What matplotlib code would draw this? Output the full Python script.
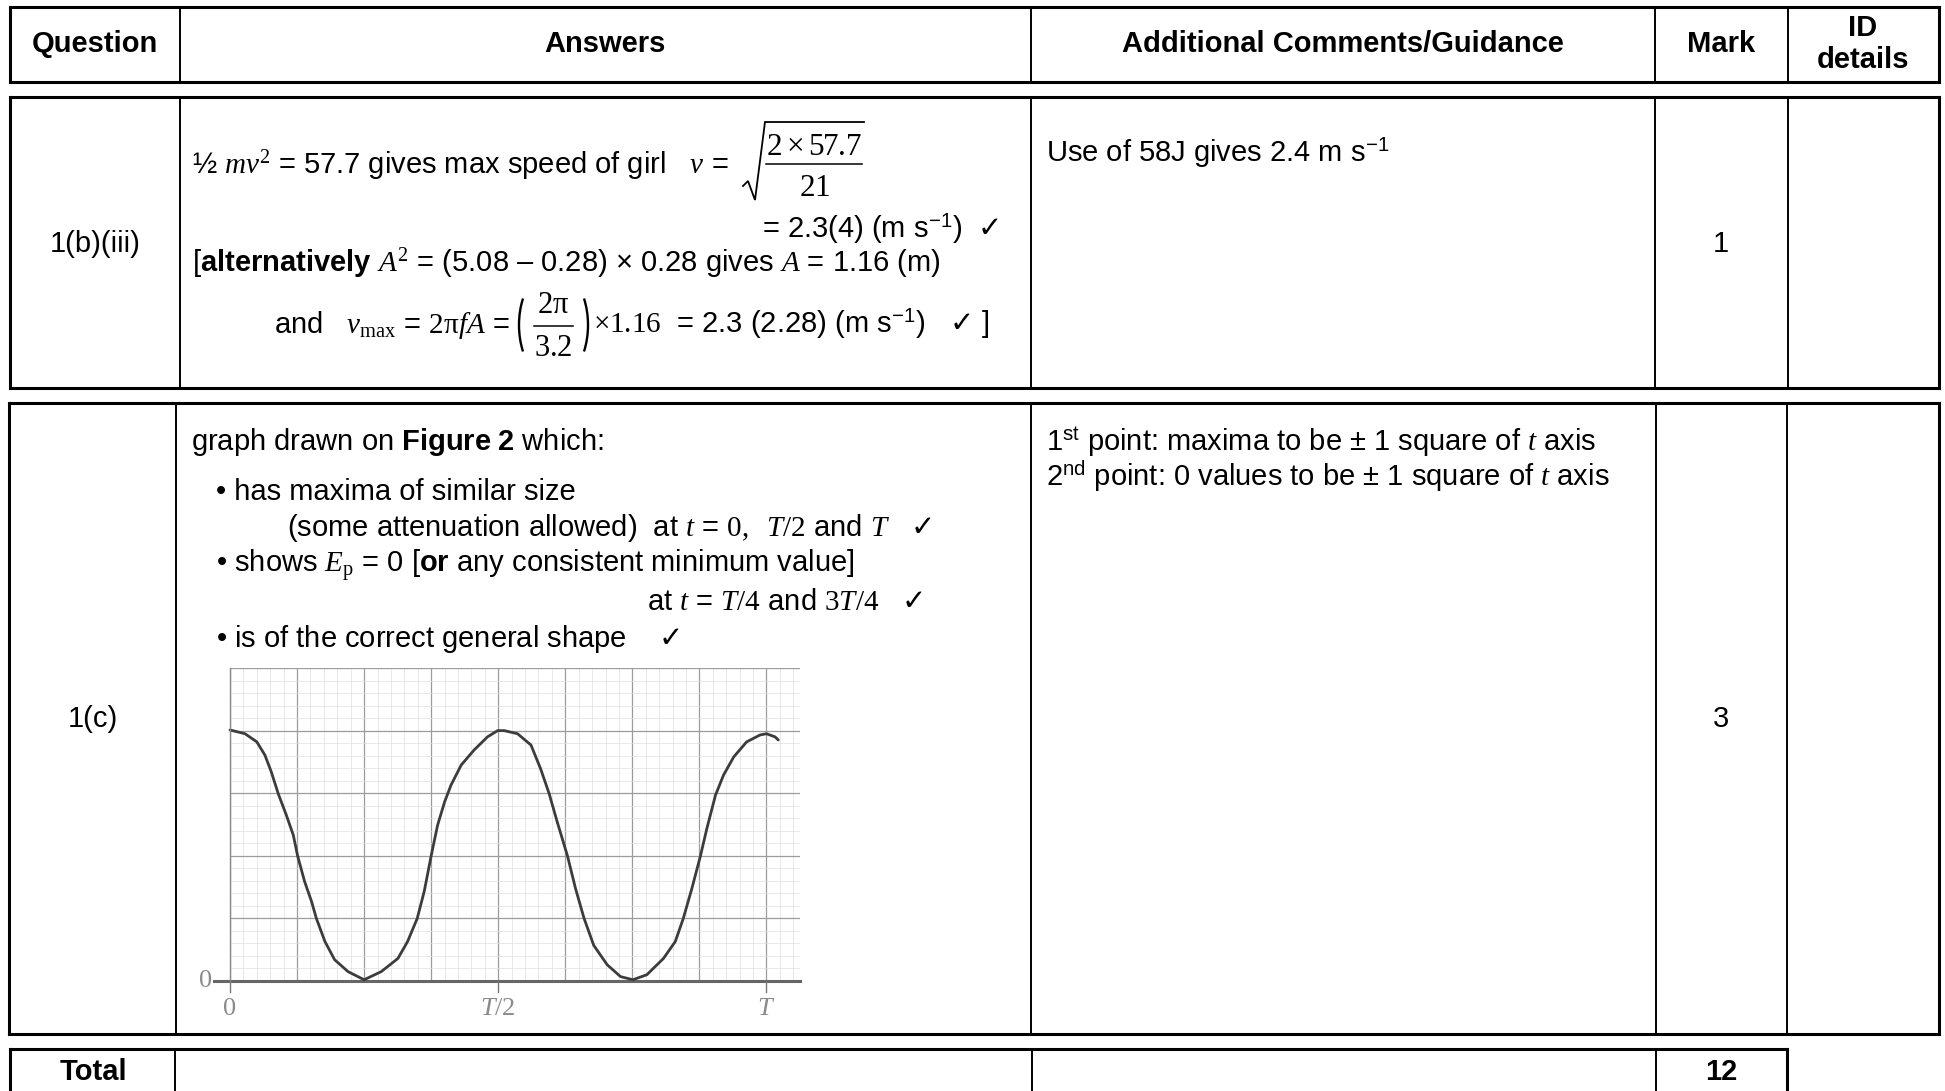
import numpy as np
import matplotlib
matplotlib.use("Agg")
import matplotlib.pyplot as plt
from matplotlib.patches import Arc

plt.rcParams['font.family'] = ['Liberation Sans', 'DejaVu Sans']
plt.rcParams['mathtext.fontset'] = 'custom'
plt.rcParams['mathtext.rm'] = 'Liberation Serif'
plt.rcParams['mathtext.it'] = 'Liberation Serif:italic'
plt.rcParams['mathtext.bf'] = 'Liberation Sans:bold'
plt.rcParams['mathtext.sf'] = 'Liberation Sans'
plt.rcParams['mathtext.cal'] = 'DejaVu Sans'
plt.rcParams['mathtext.fallback'] = 'stix'

# table text
headers = ['Question', 'Answers', 'Additional Comments/Guidance', 'Mark', 'ID\ndetails']
questions = ['1(b)(iii)', '1(c)']
marks = ['1', '3']
total_label = 'Total'
total_mark = '12'

# sketched Ep-t graph (t in units of T, Ep in grid squares)
t_pts = [0.0, 0.028, 0.05, 0.065, 0.077, 0.09, 0.105, 0.118, 0.126, 0.139,
         0.152, 0.161, 0.177, 0.195, 0.22, 0.25, 0.282, 0.313, 0.331, 0.349,
         0.362, 0.375, 0.387, 0.40, 0.412, 0.431, 0.455, 0.48, 0.499, 0.511,
         0.536, 0.561, 0.579, 0.595, 0.61, 0.629, 0.644, 0.66, 0.678, 0.703,
         0.728, 0.751, 0.777, 0.808, 0.83, 0.845, 0.861, 0.877, 0.889, 0.905,
         0.92, 0.939, 0.963, 0.988, 1.0, 1.016, 1.022]
ep_pts = [4.01, 3.95, 3.82, 3.61, 3.34, 2.99, 2.65, 2.33, 2.0, 1.59,
          1.27, 1.0, 0.63, 0.34, 0.15, 0.02, 0.15, 0.36, 0.63, 1.0,
          1.43, 2.0, 2.49, 2.86, 3.13, 3.45, 3.69, 3.9, 4.0, 4.0,
          3.95, 3.77, 3.39, 2.99, 2.54, 2.0, 1.48, 1.0, 0.57, 0.26,
          0.07, 0.02, 0.1, 0.36, 0.63, 1.0, 1.48, 2.0, 2.44, 2.97,
          3.29, 3.58, 3.82, 3.93, 3.95, 3.9, 3.85]
x_tick_pos = [0, 0.5, 1.0]
x_tick_labels = ['0', '$T/2$', '$T$']

W, H = 1945, 1091
fig = plt.figure(figsize=(W / 100, H / 100), dpi=100)
bg = fig.add_axes([0, 0, 1, 1])
bg.set_xlim(0, W)
bg.set_ylim(H, 0)
bg.axis('off')

THICK = 2.2
THIN = 1.4


def box(x0, x1, y0, y1, cols, open_bottom=False):
    bg.plot([x0, x1], [y0, y0], color='k', lw=THICK, solid_capstyle='projecting')
    if not open_bottom:
        bg.plot([x0, x1], [y1, y1], color='k', lw=THICK, solid_capstyle='projecting')
    bg.plot([x0, x0], [y0, y1], color='k', lw=THICK)
    bg.plot([x1, x1], [y0, y1], color='k', lw=THICK)
    for c in cols:
        bg.plot([c, c], [y0, y1], color='k', lw=THIN)


box(10, 1939, 7, 82, [180, 1031, 1655, 1788])
box(10, 1939, 97, 388, [180, 1031, 1655, 1788])
box(9, 1939, 403, 1034, [176, 1031, 1656, 1787])
box(10, 1787, 1049, 1100, [175, 1032, 1656], open_bottom=True)

FS = 21
SERIF = 'Liberation Serif'
hx = [95, 605, 1343, 1721, 1863]
for x, h in zip(hx, headers):
    bg.text(x, 44, h, ha='center', va='center', fontsize=FS, fontweight='bold',
            linespacing=1.15)

bg.text(95, 244, questions[0], ha='center', va='center', fontsize=FS)
bg.text(1721, 244, marks[0], ha='center', va='center', fontsize=FS)
bg.text(93, 719, questions[1], ha='center', va='center', fontsize=FS)
bg.text(1721, 719, marks[1], ha='center', va='center', fontsize=FS)
bg.text(93, 1072, total_label, ha='center', va='center', fontsize=FS, fontweight='bold')
bg.text(1721, 1072, total_mark, ha='center', va='center', fontsize=FS, fontweight='bold')

tick = r'$\mathcal{✓}$'

# 1(b)(iii) answer
bg.text(192, 174, r"½ $mv^2$ = 57.7 gives max speed of girl   $v$ =",
        ha='left', va='baseline', fontsize=FS)
# square root of the fraction
bg.plot([743, 748, 755, 765, 864], [186, 181, 200, 122, 122], color='k', lw=1.3,
        solid_joinstyle='miter')
bg.plot([766, 862], [164, 164], color='k', lw=1.1)
bg.text(814, 147, r"$2\times 57.7$", ha='center', va='center', fontsize=22.5)
bg.text(815, 188, r"$21$", ha='center', va='center', fontsize=22.5)

bg.text(762, 238, r"= 2.3(4) (m s$^{\mathsf{-1}}$)  " + tick,
        ha='left', va='baseline', fontsize=FS)
bg.text(192, 272, r"[$\mathbf{alternatively}$ $A^2$ = (5.08 – 0.28) × 0.28 gives $A$ = 1.16 (m)",
        ha='left', va='baseline', fontsize=FS)
bg.text(510, 333, r"and   $v_{\mathrm{max}}$ = $2\mathrm{\pi} fA$ =",
        ha='right', va='baseline', fontsize=FS)
# bracketed fraction 2pi / 3.2
bg.add_patch(Arc((547.7, 325), 57.4, 104, theta1=133, theta2=227, color='k', lw=1.7))
bg.add_patch(Arc((559.3, 325), 57.4, 104, theta1=-47, theta2=47, color='k', lw=1.7))
bg.text(553, 305, r"$2\mathrm{\pi}$", ha='center', va='center', fontsize=22)
bg.plot([534, 573], [326, 326], color='k', lw=1.1)
bg.text(553, 348, r"$3.2$", ha='center', va='center', fontsize=22)
bg.text(593, 333, r"$\times 1.16$  = 2.3 (2.28) (m s$^{\mathsf{-1}}$)   " + tick + " ]",
        ha='left', va='baseline', fontsize=FS)

bg.text(1046, 162, r"Use of 58J gives 2.4 m s$^{\mathsf{-1}}$", ha='left', va='baseline', fontsize=FS)

# 1(c) answer
answer2 = [
    (191, 450, r"graph drawn on $\mathbf{Figure\ 2}$ which:"),
    (216, 500, r"• has maxima of similar size"),
    (287, 536, r"(some attenuation allowed)  at $t$ = $0,\ \ T/2$ and $T$   " + tick),
    (216, 573, r"• shows $E_{\mathrm{p}}$ = 0 [$\mathbf{or}$ any consistent minimum value]"),
    (647, 610, r"at $t$ = $T/4$ and $3T/4$   " + tick),
    (216, 647, r"• is of the correct general shape    " + tick),
]
for x, y, s in answer2:
    bg.text(x, y, s, ha='left', va='baseline', fontsize=FS)

comments2 = [
    (1046, 451, r"1$^{\mathsf{st}}$ point: maxima to be ± 1 square of $t$ axis"),
    (1046, 486, r"2$^{\mathsf{nd}}$ point: 0 values to be ± 1 square of $t$ axis"),
]
for x, y, s in comments2:
    bg.text(x, y, s, ha='left', va='baseline', fontsize=FS)

# embedded graph
gx0, gx1, gy0, gy1 = 230, 800, 981, 668
ax = fig.add_axes([gx0 / W, 1 - gy0 / H, (gx1 - gx0) / W, (gy0 - gy1) / H])
ax.set_xlim(0, 1.0625)
ax.set_ylim(0, 5)
ax.set_xticks(np.arange(0, 1.07, 0.125))
ax.set_xticks(np.arange(0, 1.07, 0.025), minor=True)
ax.set_yticks(np.arange(0, 5.1, 1))
ax.set_yticks(np.arange(0, 5.01, 0.2), minor=True)
ax.grid(which='major', color='#9c9c9c', lw=0.9)
ax.grid(which='minor', color='#e0e0e0', lw=0.5)
ax.tick_params(which='both', length=0, labelbottom=False, labelleft=False)
for s in ['top', 'right', 'bottom']:
    ax.spines[s].set_visible(False)
ax.spines['left'].set_color('#888888')
ax.spines['left'].set_linewidth(1.0)
ax.plot([-0.03, 1.0625], [0, 0], color='#666666', lw=2.2, clip_on=False)
ax.plot(t_pts, ep_pts, color='#3c3c3c', lw=2.0, clip_on=False,
        solid_joinstyle='round', solid_capstyle='round')
for p, lab in zip(x_tick_pos, x_tick_labels):
    ax.plot([p, p], [0, -0.17], color='#777777', lw=1.0, clip_on=False)
    ax.text(p, -0.45, lab, ha='center', va='center', fontsize=19, color='#8a8a8a',
            family=SERIF)
ax.text(-0.033, 0, '0', ha='right', va='center', fontsize=19, color='#8a8a8a',
        family=SERIF)

fig.savefig('out.png', dpi=100, facecolor='white')
